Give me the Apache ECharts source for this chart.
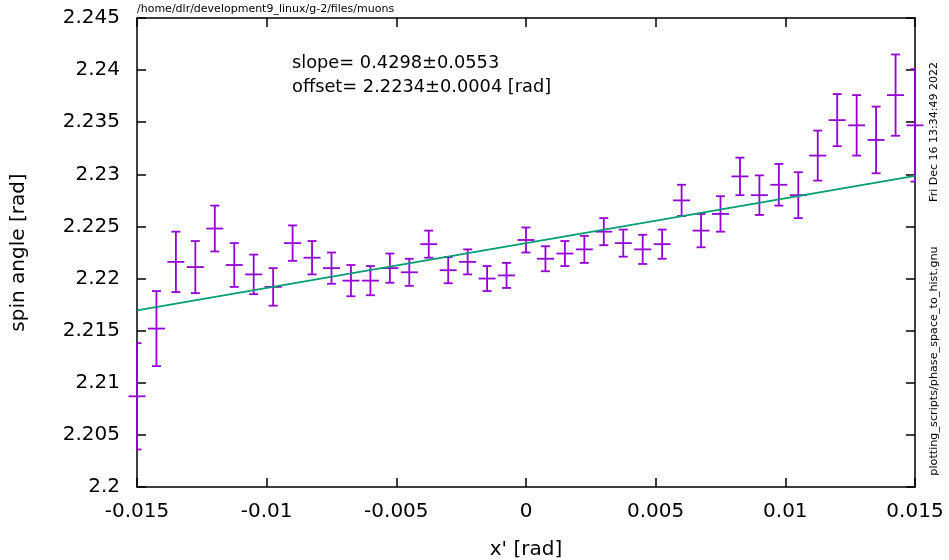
<!DOCTYPE html>
<html>
<head>
<meta charset="utf-8">
<script src="https://cdn.jsdelivr.net/npm/echarts@6/dist/echarts.min.js"></script>
<style>
html,body{margin:0;padding:0;background:#fff;}
#main{width:949px;height:560px;}
</style>
</head>
<body>
<div id="main"></div>
<script>
// ---- data ----
const xValues = [-0.015, -0.01425, -0.0135, -0.01275, -0.012, -0.01125, -0.0105, -0.00975, -0.009, -0.00825,
  -0.0075, -0.00675, -0.006, -0.00525, -0.0045, -0.00375, -0.003, -0.00225, -0.0015, -0.00075,
  0, 0.00075, 0.0015, 0.00225, 0.003, 0.00375, 0.0045, 0.00525, 0.006, 0.00675,
  0.0075, 0.00825, 0.009, 0.00975, 0.0105, 0.01125, 0.012, 0.01275, 0.0135, 0.01425, 0.015];
const yValues = [2.2087, 2.2152, 2.2216, 2.2211, 2.2248, 2.2213, 2.2204, 2.2192, 2.2234, 2.2220,
  2.2210, 2.2198, 2.2198, 2.2210, 2.2206, 2.2233, 2.2208, 2.2216, 2.2200, 2.2203,
  2.2237, 2.2219, 2.2224, 2.2228, 2.2245, 2.2234, 2.2228, 2.2233, 2.2275, 2.2246,
  2.2262, 2.2298, 2.2280, 2.2290, 2.2280, 2.2318, 2.2352, 2.2347, 2.2333, 2.2376, 2.2347];
const yErrors = [0.0051, 0.0036, 0.0029, 0.0025, 0.0022, 0.0021, 0.0019, 0.0018, 0.0017, 0.0016,
  0.0015, 0.0015, 0.0014, 0.0014, 0.0013, 0.0013, 0.00125, 0.0012, 0.0012, 0.0012,
  0.0012, 0.0012, 0.0012, 0.0013, 0.0013, 0.0013, 0.0014, 0.0014, 0.0015, 0.0016,
  0.0017, 0.0018, 0.0019, 0.0020, 0.0022, 0.0024, 0.0025, 0.0029, 0.0032, 0.0039, 0.0054];
// fitted line endpoints (slope 0.4298, offset 2.2234)
const fitX = [-0.015, 0.015];
const fitY = [2.21695, 2.22985];
// axis ticks
const xTicks = [-0.015, -0.01, -0.005, 0, 0.005, 0.01, 0.015];
const yTicks = [2.2, 2.205, 2.21, 2.215, 2.22, 2.225, 2.23, 2.235, 2.24, 2.245];
// texts
const titlePath = '/home/dlr/development9_linux/g-2/files/muons';
const fitTexts = ['slope= 0.4298\u00b10.0553', 'offset= 2.2234\u00b10.0004 [rad]'];
const dateText = 'Fri Dec 16 13:34:49 2022';
const scriptText = 'plotting_scripts/phase_space_to_hist.gnu';
const xName = "x' [rad]";
const yName = 'spin angle [rad]';

const FONT = '"DejaVu Sans", sans-serif';
const DATA_COLOR = '#9400D3';
const FIT_COLOR = '#009E73';

const chart = echarts.init(document.getElementById('main'), null, {renderer: 'canvas'});
const errData = xValues.map((x, i) => [x, yValues[i], yErrors[i]]);
const fmt = v => String(parseFloat(Number(v).toFixed(6)));

const xStep = xTicks[1] - xTicks[0];
const yStep = yTicks[1] - yTicks[0];

const axisCommon = {
  type: 'value',
  splitLine: {show: false},
  axisLine: {show: true, onZero: false, lineStyle: {color: '#000', width: 1.5}},
  axisTick: {show: true, inside: true, length: 9, lineStyle: {color: '#000', width: 1.5}},
  axisLabel: {fontFamily: FONT, fontSize: 20, color: '#000', formatter: fmt}
};

const option = {
  animation: false,
  backgroundColor: '#fff',
  grid: {left: 137, right: 34, top: 18, bottom: 73, containLabel: false, outerBoundsMode: 'none'},
  xAxis: [
    Object.assign({}, axisCommon, {
      position: 'bottom',
      min: xTicks[0], max: xTicks[xTicks.length - 1], interval: xStep,
      axisLabel: Object.assign({}, axisCommon.axisLabel, {margin: 15}),
      name: xName, nameLocation: 'middle', nameGap: 53,
      nameTextStyle: {fontFamily: FONT, fontSize: 20, color: '#000'}
    }),
    Object.assign({}, axisCommon, {
      position: 'top',
      min: xTicks[0], max: xTicks[xTicks.length - 1], interval: xStep,
      axisLabel: {show: false}
    })
  ],
  yAxis: [
    Object.assign({}, axisCommon, {
      position: 'left',
      min: yTicks[0], max: yTicks[yTicks.length - 1], interval: yStep,
      axisLabel: Object.assign({}, axisCommon.axisLabel, {margin: 17}),
      name: yName, nameLocation: 'middle', nameGap: 108, nameRotate: 90,
      nameTextStyle: {fontFamily: FONT, fontSize: 20, color: '#000'}
    }),
    Object.assign({}, axisCommon, {
      position: 'right',
      min: yTicks[0], max: yTicks[yTicks.length - 1], interval: yStep,
      axisLabel: {show: false}
    })
  ],
  series: [
    {
      type: 'custom',
      xAxisIndex: 0, yAxisIndex: 0,
      dimensions: ['x', 'y', 'err'],
      encode: {x: 0, y: 1},
      data: errData,
      clip: false,
      z: 3,
      renderItem: function (params, api) {
        const x = api.value(0), y = api.value(1), e = api.value(2);
        const c = api.coord([x, y]);
        const t = api.coord([x, y + e]);
        const b = api.coord([x, y - e]);
        const cs = params.coordSys;
        const capL = Math.max(c[0] - 4.5, cs.x);
        const capR = Math.min(c[0] + 4.5, cs.x + cs.width);
        const style = {stroke: DATA_COLOR, lineWidth: 1.8, fill: null};
        return {
          type: 'group',
          children: [
            {type: 'line', shape: {x1: c[0], y1: t[1], x2: c[0], y2: b[1]}, style: style},
            {type: 'line', shape: {x1: capL, y1: t[1], x2: capR, y2: t[1]}, style: style},
            {type: 'line', shape: {x1: capL, y1: b[1], x2: capR, y2: b[1]}, style: style},
            {type: 'line', shape: {x1: c[0] - 8.5, y1: c[1], x2: c[0] + 8.5, y2: c[1]}, style: style}
          ]
        };
      }
    },
    {
      type: 'line',
      xAxisIndex: 0, yAxisIndex: 0,
      data: fitX.map((x, i) => [x, fitY[i]]),
      showSymbol: false,
      symbol: 'none',
      z: 4,
      lineStyle: {color: FIT_COLOR, width: 1.6}
    }
  ],
  graphic: [
    {type: 'text', left: 137, top: 4,
      style: {text: titlePath, fontFamily: FONT, fontSize: 11, fill: '#000'}},
    {type: 'text', x: 292, y: 63,
      style: {text: fitTexts[0], fontFamily: FONT, fontSize: 17.8, fill: '#000', textVerticalAlign: 'middle'}},
    {type: 'text', x: 292, y: 87,
      style: {text: fitTexts[1], fontFamily: FONT, fontSize: 17.8, fill: '#000', textVerticalAlign: 'middle'}},
    {type: 'text', x: 934, y: 132, rotation: Math.PI / 2,
      style: {text: dateText, fontFamily: FONT, fontSize: 11, fill: '#000', textAlign: 'center', textVerticalAlign: 'middle'}},
    {type: 'text', x: 934, y: 361, rotation: Math.PI / 2,
      style: {text: scriptText, fontFamily: FONT, fontSize: 11.2, fill: '#000', textAlign: 'center', textVerticalAlign: 'middle'}}
  ]
};
chart.setOption(option);
</script>
</body>
</html>
